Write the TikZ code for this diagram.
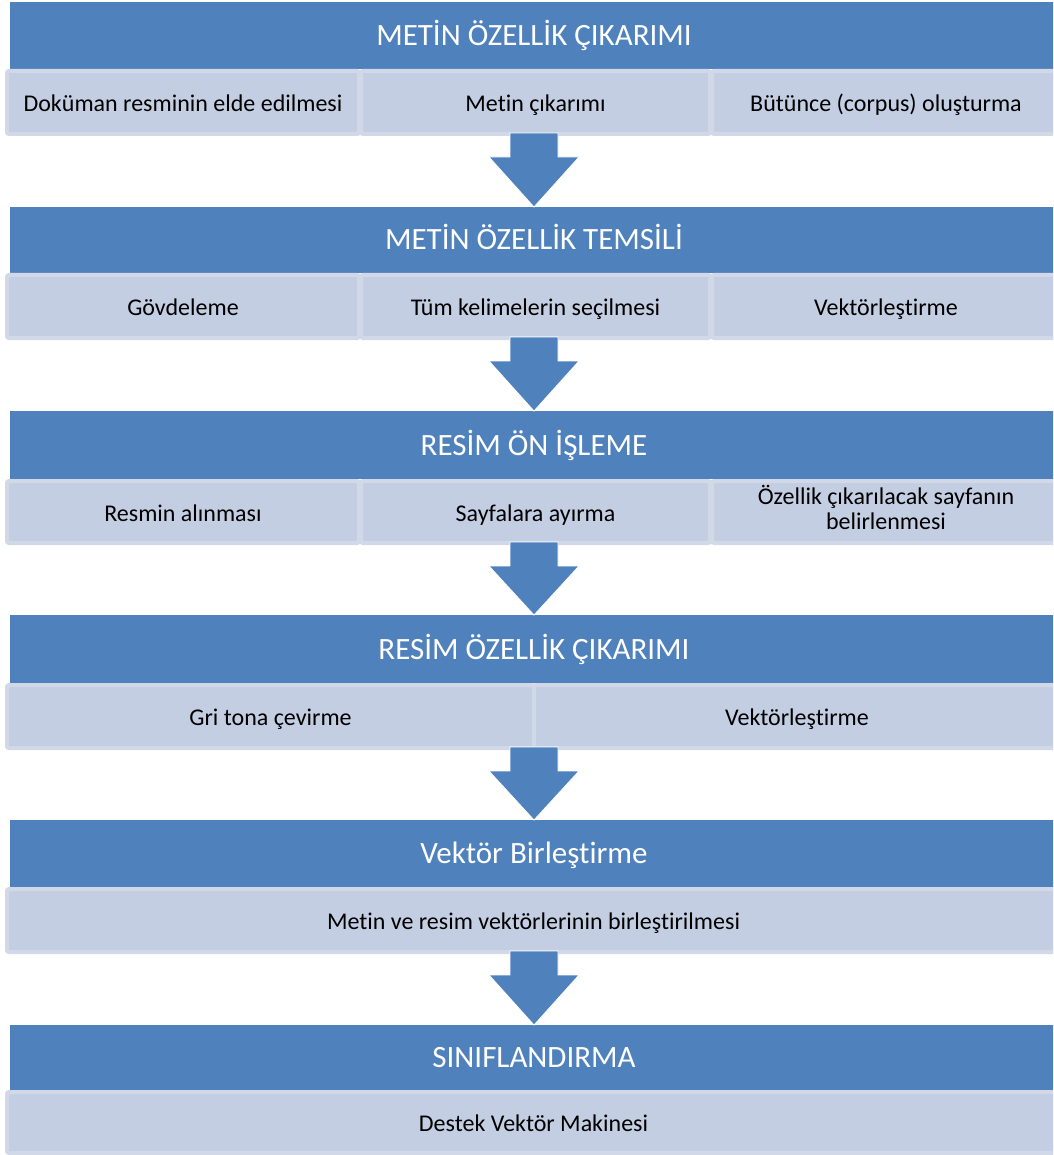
\documentclass[tikz,border=0pt]{standalone}
\usepackage{fontspec}
\setmainfont[Ligatures={NoCommon}]{Carlito}
\usetikzlibrary{calc}
\definecolor{hdr}{HTML}{4F81BD}
\definecolor{cellfill}{HTML}{C3CEE2}
\definecolor{cellline}{HTML}{D1D9E9}
\newcommand\flowdown[2]{%
  \path[flowarrow] let \p1=(#1), \p2=(#2.north) in
    (\x1-24pt,\y1+3pt) -- (\x1+24pt,\y1+3pt) -- (\x1+24pt,\y1-21pt) --
    (\x1+45pt,\y1-21pt) -- (\x2,\y2) -- (\x1-45pt,\y1-21pt) --
    (\x1-24pt,\y1-21pt) -- cycle;}
\begin{document}
\begin{tikzpicture}[x=1pt,y=-1pt,
  hdrbox/.style={fill=hdr, draw=none, inner sep=0pt, outer sep=0pt, anchor=north west,
    text=white, font=\fontsize{31}{37}\selectfont, minimum width=1048pt,
    text height=24pt, text depth=4pt},
  cellbox/.style={fill=cellfill, draw=cellline, line width=4pt, rounded corners=2pt,
    inner sep=0pt, outer sep=0pt, anchor=north west, align=center,
    font=\fontsize{24}{25}\selectfont, text height=22pt, text depth=4pt},
  flowarrow/.style={fill=hdr, draw=white, line width=0.8pt}]
\useasboundingbox (0,0) rectangle (1053,1155);
\clip (0,0) rectangle (1053,1155);
\fill[white] (0,0) rectangle (1053,1155);

% Section 1
\node[hdrbox, minimum height=67pt] (h1) at (10,2) {METİN ÖZELLİK ÇIKARIMI};
\node[cellbox, minimum width=352pt, minimum height=63pt] (c11) at (7,71) {Doküman resminin elde edilmesi};
\node[cellbox, minimum width=349pt, minimum height=63pt] (c12) at (361,71) {Metin çıkarımı};
\node[cellbox, minimum width=348pt, minimum height=63pt] (c13) at (712,71) {Bütünce (corpus) oluşturma};
\coordinate (b1) at (534,136);

% Section 2
\node[hdrbox, minimum height=66pt] (h2) at (10,207) {METİN ÖZELLİK TEMSİLİ};
\node[cellbox, minimum width=352pt, minimum height=63pt] (c21) at (7,275) {Gövdeleme};
\node[cellbox, minimum width=349pt, minimum height=63pt] (c22) at (361,275) {Tüm kelimelerin seçilmesi};
\node[cellbox, minimum width=348pt, minimum height=63pt] (c23) at (712,275) {Vektörleştirme};
\coordinate (b2) at (534,340);

% Section 3
\node[hdrbox, minimum height=68pt] (h3) at (10,411) {RESİM ÖN İŞLEME};
\node[cellbox, minimum width=352pt, minimum height=62pt] (c31) at (7,481) {Resmin alınması};
\node[cellbox, minimum width=349pt, minimum height=62pt] (c32) at (361,481) {Sayfalara ayırma};
\node[cellbox, minimum width=348pt, minimum height=62pt, text height=41pt, text depth=7pt] (c33) at (712,481) {Özellik çıkarılacak sayfanın\\belirlenmesi};
\coordinate (b3) at (534,545);

% Section 4
\node[hdrbox, minimum height=68pt] (h4) at (10,615) {RESİM ÖZELLİK ÇIKARIMI};
\node[cellbox, minimum width=527pt, minimum height=63pt] (c41) at (7,685) {Gri tona çevirme};
\node[cellbox, minimum width=526pt, minimum height=63pt] (c42) at (534,685) {Vektörleştirme};
\coordinate (b4) at (534,750);

% Section 5
\node[hdrbox, minimum height=67pt] (h5) at (10,820) {Vektör Birleştirme};
\node[cellbox, minimum width=1053pt, minimum height=63pt] (c51) at (7,889) {Metin ve resim vektörlerinin birleştirilmesi};
\coordinate (b5) at (534,954);

% Section 6
\node[hdrbox, minimum height=65pt] (h6) at (10,1025) {SINIFLANDIRMA};
\node[cellbox, minimum width=1053pt, minimum height=61pt] (c61) at (7,1092) {Destek Vektör Makinesi};

% Arrows
\flowdown{b1}{h2}
\flowdown{b2}{h3}
\flowdown{b3}{h4}
\flowdown{b4}{h5}
\flowdown{b5}{h6}
\end{tikzpicture}
\end{document}
